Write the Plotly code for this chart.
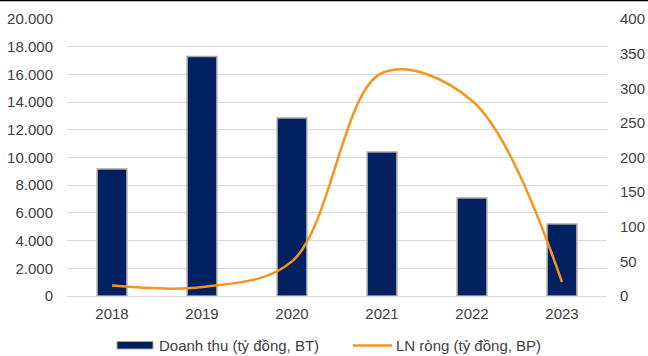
import plotly.graph_objects as go

# Revenue (left axis, bars) and net profit (right axis, smoothed line)
years = ["2018", "2019", "2020", "2021", "2022", "2023"]
doanh_thu = [9170, 17300, 12850, 10400, 7080, 5200]
ln_rong = [15, 13, 50, 322, 282, 20]
left_ticks = [0, 2000, 4000, 6000, 8000, 10000, 12000, 14000, 16000, 18000, 20000]
left_tick_text = ["0", "2.000", "4.000", "6.000", "8.000", "10.000", "12.000",
                  "14.000", "16.000", "18.000", "20.000"]
right_ticks = [0, 50, 100, 150, 200, 250, 300, 350, 400]
legend_bar = "Doanh thu (tỷ đồng, BT)"
legend_line = "LN ròng (tỷ đồng, BP)"

W, H = 648, 356
ML, MR, MT, MB = 67, 41, 19, 60
PW, PH = W - ML - MR, H - MT - MB

NAVY = "#002060"
ORANGE = "#F7941D"
TEXT = "#404040"
GRID = "#D9D9D9"
FONT = "Liberation Sans, Arial, sans-serif"
FS = 15


def px(x):
    return (x - ML) / PW


def py(y):
    return (H - MB - y) / PH


fig = go.Figure()
fig.add_trace(go.Bar(
    x=years, y=doanh_thu, name=legend_bar, showlegend=False,
    marker=dict(color=NAVY, line=dict(color="#A6A6A6", width=1.5)),
    yaxis="y",
))
fig.add_trace(go.Scatter(
    x=years, y=ln_rong, name=legend_line, showlegend=False,
    mode="lines", line=dict(color=ORANGE, width=2.5, shape="spline", smoothing=1),
    yaxis="y2",
))

fig.update_layout(
    width=W, height=H,
    margin=dict(l=ML, r=MR, t=MT, b=MB, autoexpand=False),
    paper_bgcolor="white", plot_bgcolor="white",
    font=dict(family=FONT, size=FS, color=TEXT),
    bargap=0.67,
    xaxis=dict(type="category", range=[-0.5, 5.5], showgrid=False, automargin=False,
               showline=True, linecolor=GRID, linewidth=1,
               ticks="", ticklabelstandoff=4, tickfont=dict(size=FS, color=TEXT)),
    yaxis=dict(range=[0, 20000], tickvals=left_ticks, ticktext=left_tick_text,
               automargin=False,
               showgrid=True, gridcolor=GRID, gridwidth=1, zeroline=False,
               ticks="", ticklabelstandoff=13, tickfont=dict(size=FS, color=TEXT)),
    yaxis2=dict(range=[0, 400], tickvals=right_ticks, overlaying="y", side="right",
                automargin=False,
                showgrid=False, zeroline=False, ticks="", ticklabelstandoff=12,
                tickfont=dict(size=FS, color=TEXT)),
    showlegend=False,
)

# Top frame line
fig.add_shape(type="line", xref="paper", yref="paper",
              x0=px(0), x1=px(W), y0=py(0.5), y1=py(0.5),
              line=dict(color="black", width=1.5))

# Custom legend row below the axis
fig.add_shape(type="rect", xref="paper", yref="paper",
              x0=px(117), x1=px(153), y0=py(349), y1=py(341.5),
              fillcolor=NAVY, line=dict(color="#A6A6A6", width=1))
fig.add_annotation(xref="paper", yref="paper", x=px(157), y=py(345.5),
                   xanchor="left", yanchor="middle", showarrow=False,
                   text=legend_bar, font=dict(size=FS, color=TEXT, family=FONT))
fig.add_shape(type="line", xref="paper", yref="paper",
              x0=px(353), x1=px(392), y0=py(345.5), y1=py(345.5),
              line=dict(color=ORANGE, width=2.5))
fig.add_annotation(xref="paper", yref="paper", x=px(394), y=py(345.5),
                   xanchor="left", yanchor="middle", showarrow=False,
                   text=legend_line, font=dict(size=FS, color=TEXT, family=FONT))

fig.write_html("out.html")
